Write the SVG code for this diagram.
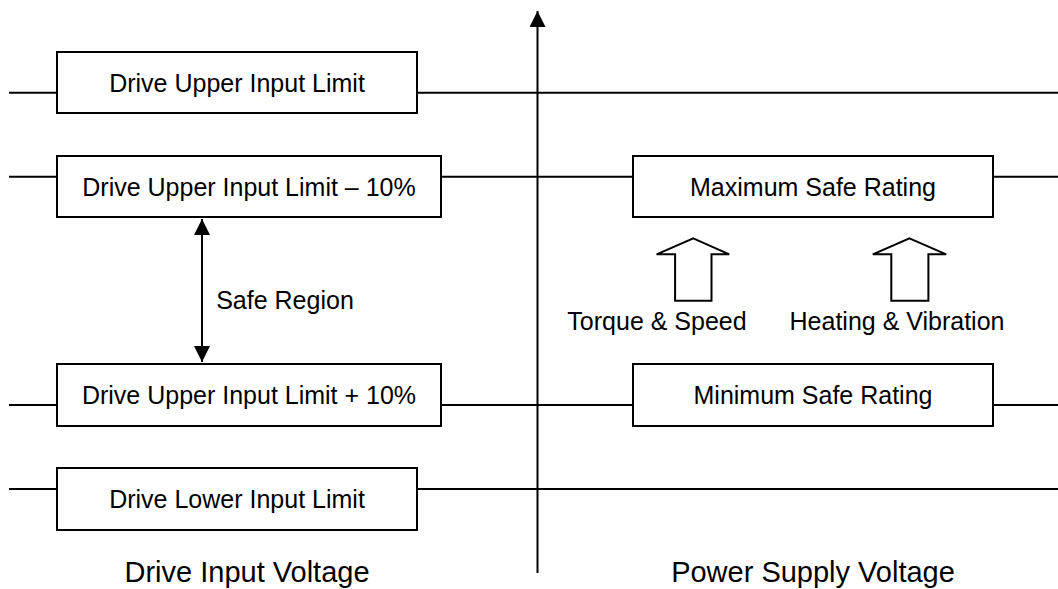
<svg xmlns="http://www.w3.org/2000/svg" width="1058" height="589" viewBox="0 0 1058 589">
<style>
.ln{stroke:#000;stroke-width:2;fill:none}
.box{stroke:#000;stroke-width:2;fill:#fff}
.t{font-family:"Liberation Sans",Arial,sans-serif;font-size:25px;fill:#000;text-anchor:middle}
.big{font-size:29px}
</style>
<defs>
<marker id="ah" viewBox="0 0 16 16" refX="16" refY="8" markerWidth="16" markerHeight="16" markerUnits="userSpaceOnUse" orient="auto-start-reverse">
<path d="M0,0 L16,8 L0,16 Z" fill="#000"/>
</marker>
</defs>
<g id="connectors">
<line class="ln" x1="537.5" y1="573" x2="537.5" y2="11" marker-end="url(#ah)"/>
<line class="ln" x1="9" y1="92.7" x2="57" y2="92.7"/>
<line class="ln" x1="417" y1="92.7" x2="1058" y2="92.7"/>
<line class="ln" x1="9" y1="176.7" x2="57" y2="176.7"/>
<line class="ln" x1="441" y1="176.7" x2="633" y2="176.7"/>
<line class="ln" x1="993" y1="176.7" x2="1058" y2="176.7"/>
<line class="ln" x1="9" y1="405" x2="57" y2="405"/>
<line class="ln" x1="441" y1="405" x2="633" y2="405"/>
<line class="ln" x1="993" y1="405" x2="1058" y2="405"/>
<line class="ln" x1="9" y1="489" x2="57" y2="489"/>
<line class="ln" x1="417" y1="489" x2="1058" y2="489"/>
<line class="ln" x1="202" y1="219" x2="202" y2="362" marker-start="url(#ah)" marker-end="url(#ah)"/>
</g>
<g id="upper-limit">
<rect class="box" x="57" y="52" width="360" height="61"/>
<text class="t" x="237" y="92">Drive Upper Input Limit</text>
</g>
<g id="upper-minus">
<rect class="box" x="57" y="156" width="384" height="61"/>
<text class="t" x="249" y="196">Drive Upper Input Limit – 10%</text>
</g>
<g id="upper-plus">
<rect class="box" x="57" y="364" width="384" height="62"/>
<text class="t" x="249" y="404">Drive Upper Input Limit + 10%</text>
</g>
<g id="lower-limit">
<rect class="box" x="57" y="468" width="360" height="62"/>
<text class="t" x="237" y="508">Drive Lower Input Limit</text>
</g>
<g id="safe-region">
<text class="t" x="285" y="309">Safe Region</text>
</g>
<g id="max-safe">
<rect class="box" x="633" y="156" width="360" height="61"/>
<text class="t" x="813" y="196">Maximum Safe Rating</text>
</g>
<g id="min-safe">
<rect class="box" x="633" y="364" width="360" height="62"/>
<text class="t" x="813" y="404">Minimum Safe Rating</text>
</g>
<g id="torque">
<polygon class="box" points="693.3,238.3 729.3,254.3 711.5,254.3 711.5,300.7 675.1,300.7 675.1,254.3 656.6,254.3"/>
<text class="t" x="657" y="330">Torque &amp; Speed</text>
</g>
<g id="heating">
<polygon class="box" points="909.5,238.3 946.2,254.3 928.4,254.3 928.4,300.7 891.3,300.7 891.3,254.3 872.8,254.3"/>
<text class="t" x="897" y="330">Heating &amp; Vibration</text>
</g>
<g id="label-drive">
<text class="t big" x="247" y="582">Drive Input Voltage</text>
</g>
<g id="label-psu">
<text class="t big" x="813" y="582">Power Supply Voltage</text>
</g>
</svg>
